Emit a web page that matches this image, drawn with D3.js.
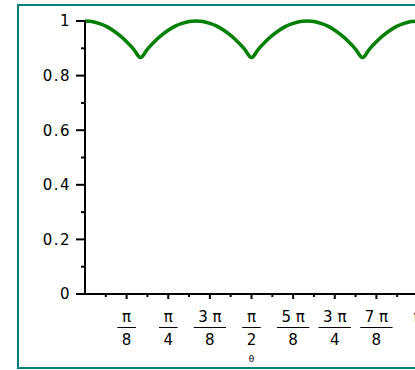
<!DOCTYPE html>
<html lang="en">
<head>
    <meta charset="UTF-8" />
    <title>Maple plot</title>
    <script src="https://d3js.org/d3.v7.min.js"></script>
    <style>
        body {
            margin: 0;
            overflow: hidden;
            background: white;
            font-family: "DejaVu Sans", Verdana, sans-serif;
        }
        .tick-label {
            font-size: 15px;
            fill: #000;
        }
    </style>
</head>
<body>
    <script>
        // theta in steps of pi/48
        const thetaSteps = d3.range(0, 49);
        const values = [
            1, 0.998, 0.991, 0.981, 0.966, 0.947, 0.924, 0.897, 0.866,
            0.897, 0.924, 0.947, 0.966, 0.981, 0.991, 0.998, 1,
            0.998, 0.991, 0.981, 0.966, 0.947, 0.924, 0.897, 0.866,
            0.897, 0.924, 0.947, 0.966, 0.981, 0.991, 0.998, 1,
            0.998, 0.991, 0.981, 0.966, 0.947, 0.924, 0.897, 0.866,
            0.897, 0.924, 0.947, 0.966, 0.981, 0.991, 0.998, 1
        ];

        const yTicks = [0, 0.2, 0.4, 0.6, 0.8, 1];
        const yLabels = ['0', '0.2', '0.4', '0.6', '0.8', '1'];
        const yMinor = [0.1, 0.3, 0.5, 0.7, 0.9];

        // x ticks in units of pi/8
        const xTicks = [1, 2, 3, 4, 5, 6, 7, 8];
        const xNum = ['π', 'π', '3 π', 'π', '5 π', '3 π', '7 π', 'π'];
        const xDen = ['8', '4', '8', '2', '8', '4', '8', ''];
        const xMinor = [0.5, 1.5, 2.5, 3.5, 4.5, 5.5, 6.5, 7.5];

        const width = 415, height = 370;
        const svg = d3.select('body').append('svg').attr('width', width).attr('height', height);

        const x = d3.scaleLinear().domain([0, Math.PI]).range([85, 418]);
        const y = d3.scaleLinear().domain([0, 1]).range([294, 21]);

        // frame
        svg.append('rect')
            .attr('x', 18).attr('y', 5)
            .attr('width', 420).attr('height', 363)
            .attr('fill', 'none')
            .attr('stroke', '#008080')
            .attr('stroke-width', 2);

        // curve
        const line = d3.line()
            .x((d, i) => x(thetaSteps[i] * Math.PI / 48))
            .y(d => y(d))
            .curve(d3.curveMonotoneX);

        svg.append('path')
            .datum(values)
            .attr('d', line)
            .attr('fill', 'none')
            .attr('stroke', '#008000')
            .attr('stroke-width', 3.5)
            .attr('stroke-linejoin', 'round');

        // axes lines
        svg.append('line')
            .attr('x1', x(0)).attr('x2', x(0))
            .attr('y1', y(1)).attr('y2', y(0))
            .attr('stroke', '#000').attr('stroke-width', 2);
        svg.append('line')
            .attr('x1', x(0) - 9).attr('x2', width)
            .attr('y1', y(0)).attr('y2', y(0))
            .attr('stroke', '#000').attr('stroke-width', 2);

        // y ticks
        svg.selectAll('.ytick').data(yTicks).enter().append('line')
            .attr('x1', x(0) - 9).attr('x2', x(0))
            .attr('y1', d => y(d)).attr('y2', d => y(d))
            .attr('stroke', '#000').attr('stroke-width', 2);
        svg.selectAll('.yminor').data(yMinor).enter().append('line')
            .attr('x1', x(0) - 4).attr('x2', x(0))
            .attr('y1', d => y(d)).attr('y2', d => y(d))
            .attr('stroke', '#000').attr('stroke-width', 2);
        svg.selectAll('.ylabel').data(yTicks).enter().append('text')
            .attr('class', 'tick-label')
            .attr('x', 71)
            .attr('y', d => y(d))
            .attr('dy', '0.36em')
            .attr('text-anchor', 'end')
            .style('letter-spacing', '1.5px')
            .text((d, i) => yLabels[i]);

        // x ticks
        svg.selectAll('.xtick').data(xTicks).enter().append('line')
            .attr('x1', d => x(d * Math.PI / 8)).attr('x2', d => x(d * Math.PI / 8))
            .attr('y1', y(0)).attr('y2', y(0) + 5)
            .attr('stroke', '#000').attr('stroke-width', 2);
        svg.selectAll('.xminor').data(xMinor).enter().append('line')
            .attr('x1', d => x(d * Math.PI / 8)).attr('x2', d => x(d * Math.PI / 8))
            .attr('y1', y(0)).attr('y2', y(0) + 3)
            .attr('stroke', '#000').attr('stroke-width', 2);

        xTicks.forEach((d, i) => {
            const cx = x(d * Math.PI / 8);
            const g = svg.append('g');
            const num = g.append('text')
                .attr('class', 'tick-label')
                .attr('x', cx).attr('y', 322)
                .attr('text-anchor', 'middle')
                .text(xNum[i]);
            if (xDen[i] === '') return;
            const den = g.append('text')
                .attr('class', 'tick-label')
                .attr('x', cx).attr('y', 345)
                .attr('text-anchor', 'middle')
                .text(xDen[i]);
            const w = Math.max(num.node().getComputedTextLength(), den.node().getComputedTextLength()) + 9;
            g.append('line')
                .attr('x1', cx - w / 2).attr('x2', cx + w / 2)
                .attr('y1', 327.5).attr('y2', 327.5)
                .attr('stroke', '#000').attr('stroke-width', 1);
        });

        // axis label
        svg.append('text')
            .attr('x', x(Math.PI / 2)).attr('y', 362)
            .attr('text-anchor', 'middle')
            .style('font-size', '9px')
            .text('θ');
    </script>
</body>
</html>
